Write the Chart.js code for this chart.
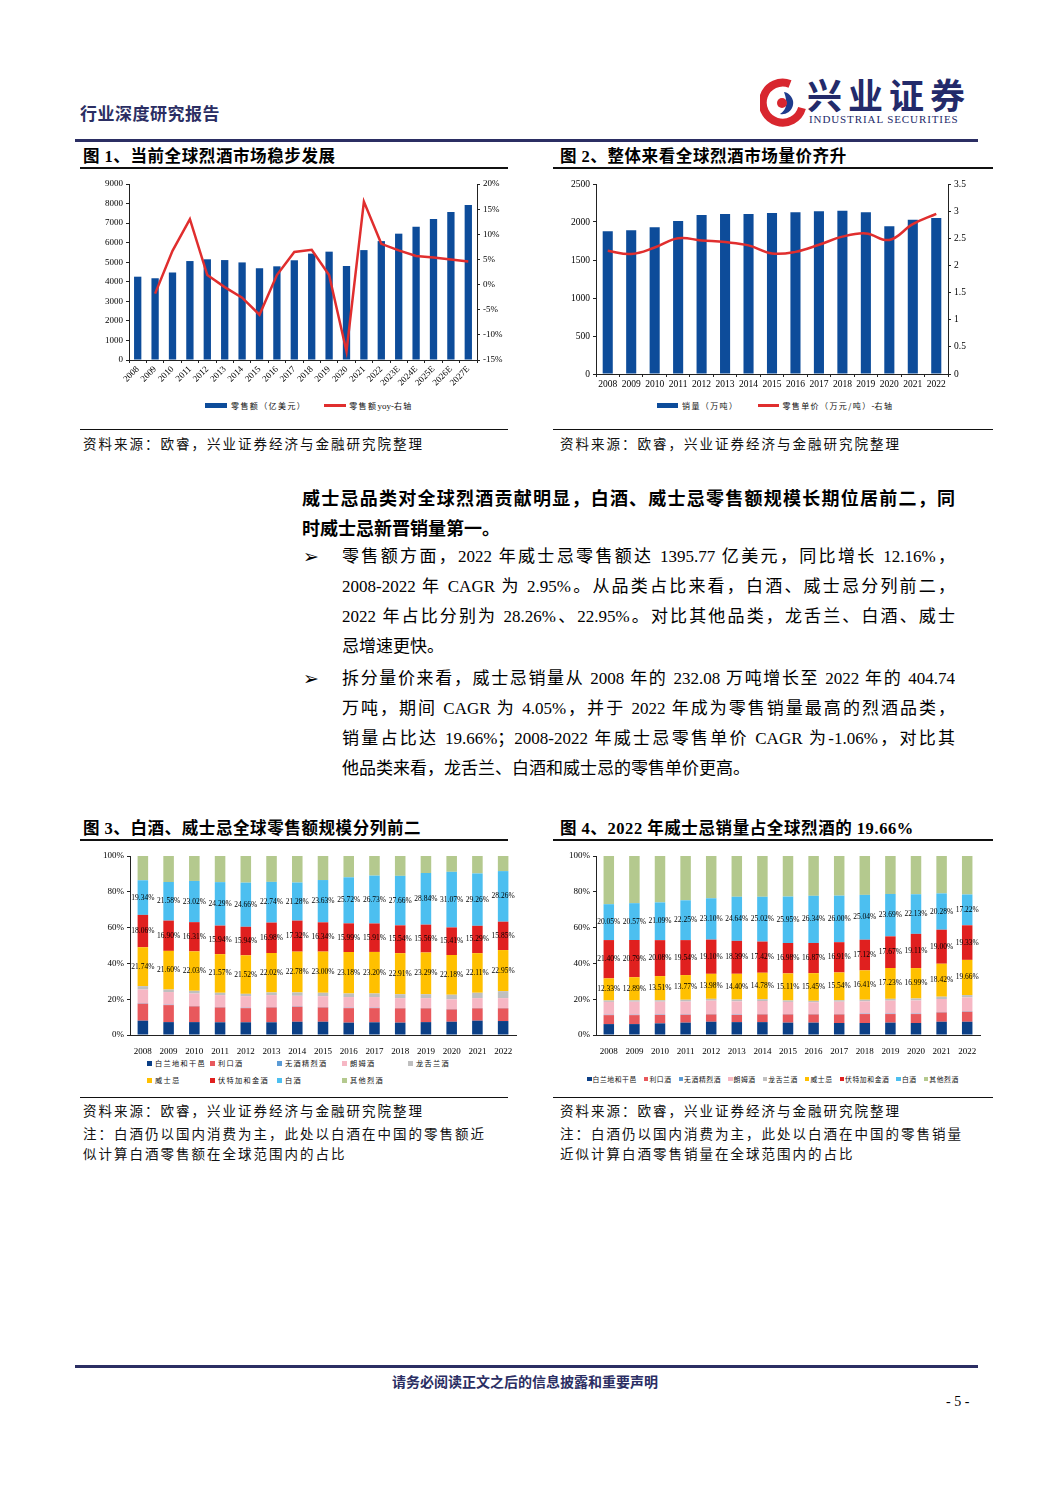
<!DOCTYPE html>
<html>
<head>
<meta charset="utf-8">
<script src="https://cdn.jsdelivr.net/npm/chart.js@4.4.0/dist/chart.umd.min.js"></script>
<style>
  body { margin: 0; background: #fff; }
  #page { position: relative; width: 1058px; height: 1496px; overflow: hidden;
    font-family: "Liberation Serif", "Noto Sans CJK SC", serif; color: #000; }
  .abs { position: absolute; }
  .rule { position: absolute; height: 1.5px; background: #111; }
  .navyrule { position: absolute; height: 3px; background: #2b2e63; }
  .figtitle { position: absolute; font-family: "Noto Sans CJK SC", sans-serif; font-weight: 700;
    font-size: 16.5px; letter-spacing: 0.6px; line-height: 20px; white-space: nowrap; }
  .figtitle .num { font-family: "Liberation Serif", serif; }
  .src { position: absolute; font-family: "Noto Sans CJK SC", sans-serif; font-size: 13.5px;
    letter-spacing: 2px; line-height: 20px; white-space: nowrap; color: #111; }
  .line { position: absolute; height: 30px; line-height: 30px; font-size: 17px; white-space: nowrap; }
  .line.full { text-align: justify; text-align-last: justify; white-space: normal; overflow: hidden; }
  .bold { font-family: "Noto Sans CJK SC", sans-serif; font-weight: 700; font-size: 18px; }
  .bullet { position: absolute; font-family: "DejaVu Sans", sans-serif; font-size: 19px; line-height: 30px; }
  canvas { position: absolute; }
  .lg { position: absolute; display: flex; align-items: center; white-space: nowrap;
    font-family: "Noto Sans CJK SC", sans-serif; color: #111; }
  .lg i { display: inline-block; }
</style>
</head>
<body>
<div id="page">
  <!-- header -->
  <div class="abs" style="left:80px;top:101px;font-family:'Noto Sans CJK SC';font-weight:700;font-size:17px;color:#2b2e63;letter-spacing:0.5px;line-height:24px;">行业深度研究报告</div>
  <svg class="abs" style="left:760px;top:78px" width="46" height="50" viewBox="0 0 46 50">
    <path d="M30 6 A20 20 0 1 0 42 30" stroke="#d8262e" stroke-width="8" fill="none"/>
    <path d="M24 14 A11 11 0 1 1 20 36 Q30 30 24 14 Z" fill="#1e3b8c"/>
    <circle cx="22" cy="25" r="5" fill="#d8262e"/>
  </svg>
  <div class="abs" style="left:807px;top:72px;font-family:'Noto Sans CJK SC';font-weight:700;font-size:35px;letter-spacing:6px;color:#232a6a;line-height:44px;">兴业证券</div>
  <div class="abs" style="left:809px;top:112px;font-family:'Liberation Serif';font-size:11px;letter-spacing:0.9px;color:#232a6a;line-height:14px;">INDUSTRIAL SECURITIES</div>
  <div class="navyrule" style="left:75px;top:139px;width:903px;"></div>

  <!-- top figures -->
  <div class="figtitle" style="left:83px;top:145px;">图 <span class="num">1</span>、当前全球烈酒市场稳步发展</div>
  <div class="figtitle" style="left:560px;top:145px;">图 <span class="num">2</span>、整体来看全球烈酒市场量价齐升</div>
  <div class="rule" style="left:80px;top:167px;width:428px;"></div>
  <div class="rule" style="left:553px;top:167px;width:440px;"></div>

  <canvas id="chart1" width="425" height="228" style="left:80px;top:172px;"></canvas>
  <canvas id="chart2" width="425" height="222" style="left:555px;top:172px;"></canvas>

  <div class="lg" style="left:205px;top:400px;font-size:8px;letter-spacing:1.4px;">
    <i style="width:22px;height:5px;background:#0d4c9a;margin-right:4px;"></i>零售额（亿美元）
    <i style="width:22px;height:3px;background:#e02e2e;margin:0 3px 0 18px;"></i>零售额<span style="font-family:'Liberation Serif';letter-spacing:0;font-size:9px">yoy-</span>右轴
  </div>
  <div class="lg" style="left:657px;top:400px;font-size:8px;letter-spacing:1.4px;">
    <i style="width:21px;height:5px;background:#0d4c9a;margin-right:4px;"></i>销量（万吨）
    <i style="width:21px;height:3px;background:#e02e2e;margin:0 3px 0 20px;"></i>零售单价（万元/吨）<span style="font-family:'Liberation Serif';letter-spacing:0;font-size:9px">-</span>右轴
  </div>

  <div class="rule" style="left:80px;top:429px;width:428px;height:1px;"></div>
  <div class="rule" style="left:553px;top:429px;width:440px;height:1px;"></div>
  <div class="src" style="left:83px;top:433px;">资料来源：欧睿，兴业证券经济与金融研究院整理</div>
  <div class="src" style="left:560px;top:433px;">资料来源：欧睿，兴业证券经济与金融研究院整理</div>

  <!-- body text -->
  <div class="line full bold" style="left:302px;top:482px;width:653px;">威士忌品类对全球烈酒贡献明显，白酒、威士忌零售额规模长期位居前二，同</div>
  <div class="line bold" style="left:302px;top:512px;">时威士忌新晋销量第一。</div>

  <div class="bullet" style="left:303px;top:541px;">➢</div>
  <div class="line full" style="left:342px;top:542px;width:613px;">零售额方面，2022 年威士忌零售额达 1395.77 亿美元，同比增长 12.16%，</div>
  <div class="line full" style="left:342px;top:572px;width:613px;">2008-2022 年 CAGR 为 2.95%。从品类占比来看，白酒、威士忌分列前二，</div>
  <div class="line full" style="left:342px;top:602px;width:613px;">2022 年占比分别为 28.26%、22.95%。对比其他品类，龙舌兰、白酒、威士</div>
  <div class="line" style="left:342px;top:632px;">忌增速更快。</div>

  <div class="bullet" style="left:303px;top:663px;">➢</div>
  <div class="line full" style="left:342px;top:664px;width:613px;">拆分量价来看，威士忌销量从 2008 年的 232.08 万吨增长至 2022 年的 404.74</div>
  <div class="line full" style="left:342px;top:694px;width:613px;">万吨，期间 CAGR 为 4.05%，并于 2022 年成为零售销量最高的烈酒品类，</div>
  <div class="line full" style="left:342px;top:724px;width:613px;">销量占比达 19.66%；2008-2022 年威士忌零售单价 CAGR 为-1.06%，对比其</div>
  <div class="line" style="left:342px;top:754px;">他品类来看，龙舌兰、白酒和威士忌的零售单价更高。</div>

  <!-- bottom figures -->
  <div class="figtitle" style="left:83px;top:817px;">图 <span class="num">3</span>、白酒、威士忌全球零售额规模分列前二</div>
  <div class="figtitle" style="left:560px;top:817px;">图 <span class="num">4</span>、<span class="num">2022</span> 年威士忌销量占全球烈酒的 <span class="num">19.66%</span></div>
  <div class="rule" style="left:80px;top:839px;width:428px;"></div>
  <div class="rule" style="left:553px;top:839px;width:440px;"></div>

  <canvas id="chart3" width="440" height="209" style="left:80px;top:846px;"></canvas>
  <canvas id="chart4" width="430" height="209" style="left:555px;top:846px;"></canvas>
  <div id="legend3"></div>
  <div id="legend4" class="lg" style="left:587px;top:1074px;font-size:6.8px;letter-spacing:0.6px;"></div>

  <div class="rule" style="left:80px;top:1097px;width:428px;height:1px;"></div>
  <div class="rule" style="left:553px;top:1097px;width:440px;height:1px;"></div>
  <div class="src" style="left:83px;top:1100px;">资料来源：欧睿，兴业证券经济与金融研究院整理</div>
  <div class="src" style="left:83px;top:1123px;">注：白酒仍以国内消费为主，此处以白酒在中国的零售额近</div>
  <div class="src" style="left:83px;top:1143px;">似计算白酒零售额在全球范围内的占比</div>
  <div class="src" style="left:560px;top:1100px;">资料来源：欧睿，兴业证券经济与金融研究院整理</div>
  <div class="src" style="left:560px;top:1123px;">注：白酒仍以国内消费为主，此处以白酒在中国的零售销量</div>
  <div class="src" style="left:560px;top:1143px;">近似计算白酒零售销量在全球范围内的占比</div>

  <!-- footer -->
  <div class="navyrule" style="left:75px;top:1365px;width:903px;"></div>
  <div class="abs" style="left:0;width:1050px;top:1371px;text-align:center;font-family:'Noto Sans CJK SC';font-weight:700;font-size:14px;color:#2b2e63;line-height:20px;">请务必阅读正文之后的信息披露和重要声明</div>
  <div class="abs" style="left:946px;top:1393px;font-size:14px;line-height:18px;">- 5 -</div>
</div>

<script>
// 图1 全球烈酒零售额
const years1 = ['2008', '2009', '2010', '2011', '2012', '2013', '2014', '2015', '2016', '2017',
  '2018', '2019', '2020', '2021', '2022', '2023E', '2024E', '2025E', '2026E', '2027E'];
const retailSales = [4260, 4180, 4470, 5060, 5150, 5110, 4990, 4690, 4790, 5100,
  5440, 5540, 4810, 5620, 6080, 6460, 6820, 7210, 7570, 7930];
const retailYoy = [null, -1.8, 6.7, 13.0, 1.9, -0.5, -2.6, -6.0, 1.9, 6.5,
  6.9, 1.9, -13.3, 16.5, 8.1, 6.8, 5.7, 5.4, 5.0, 4.6];

// 图2 销量与零售单价
const years2 = ['2008', '2009', '2010', '2011', '2012', '2013', '2014', '2015',
  '2016', '2017', '2018', '2019', '2020', '2021', '2022'];
const salesVolume = [1877, 1890, 1930, 2013, 2092, 2105, 2106, 2118, 2127, 2140, 2149, 2127, 1943, 2031, 2053];
const unitPrice = [2.27, 2.21, 2.33, 2.50, 2.46, 2.43, 2.37, 2.22, 2.25, 2.38, 2.53, 2.59, 2.47, 2.76, 2.95];

// 品类
const spiritNames = ['白兰地和干邑', '利口酒', '无酒精烈酒', '朗姆酒', '龙舌兰酒', '威士忌', '伏特加和金酒', '白酒', '其他烈酒'];

// 图3 零售额占比 (%)
const valBrandy  = [8.0, 7.2, 7.2, 7.1, 7.1, 7.1, 7.4, 7.4, 6.9, 7.1, 6.9, 7.2, 7.4, 8.0, 7.8];
const valLiqueur = [9.5, 9.5, 8.8, 8.3, 7.9, 8.3, 8.4, 8.0, 8.1, 7.9, 8.0, 7.7, 6.9, 6.9, 7.1];
const valNoAlc   = [0.2, 0.2, 0.2, 0.2, 0.2, 0.2, 0.2, 0.2, 0.2, 0.2, 0.2, 0.2, 0.2, 0.2, 0.2];
const valRum     = [7.7, 7.1, 7.0, 6.7, 6.5, 6.7, 5.9, 6.1, 6.0, 6.0, 5.5, 5.5, 5.4, 5.5, 5.5];
const valTequila = [1.9, 1.4, 1.5, 1.3, 1.3, 1.5, 1.9, 1.9, 2.0, 2.0, 2.2, 2.2, 2.6, 3.0, 3.9];
const valWhisky  = [21.74, 21.60, 22.03, 21.57, 21.52, 22.02, 22.78, 23.00, 23.18, 23.20, 22.91, 23.29, 22.18, 22.11, 22.95];
const valVodka   = [18.06, 16.90, 16.31, 15.94, 15.94, 16.98, 17.32, 16.34, 15.99, 15.91, 15.54, 15.56, 15.41, 15.29, 15.85];
const valBaijiu  = [19.34, 21.58, 23.02, 24.29, 24.66, 22.74, 21.28, 23.63, 25.72, 26.73, 27.66, 28.84, 31.07, 29.26, 28.26];
const valOther   = [13.56, 14.52, 13.94, 14.60, 14.88, 14.46, 14.82, 13.43, 11.91, 10.96, 11.09, 9.51, 8.84, 9.74, 8.44];

// 图4 销量占比 (%)
const volBrandy  = [6.1, 6.1, 6.5, 6.9, 7.4, 7.2, 7.2, 6.9, 6.9, 6.7, 6.7, 6.9, 6.7, 7.4, 7.4];
const volLiqueur = [5.0, 5.0, 4.7, 4.4, 4.1, 4.0, 4.3, 4.6, 4.6, 4.8, 5.0, 4.8, 5.0, 5.2, 5.6];
const volNoAlc   = [0.2, 0.2, 0.2, 0.2, 0.2, 0.2, 0.2, 0.2, 0.2, 0.2, 0.2, 0.2, 0.2, 0.2, 0.2];
const volRum     = [7.2, 7.3, 7.2, 7.2, 7.5, 7.4, 7.3, 6.8, 6.6, 6.9, 6.9, 7.3, 7.4, 7.3, 7.8];
const volTequila = [0.8, 0.8, 0.8, 1.0, 1.0, 1.0, 1.0, 0.8, 0.8, 0.8, 0.9, 1.0, 1.1, 1.3, 1.3];
const volWhisky  = [12.33, 12.89, 13.51, 13.77, 13.98, 14.40, 14.78, 15.11, 15.45, 15.54, 16.41, 17.23, 16.99, 18.42, 19.66];
const volVodka   = [21.40, 20.79, 20.08, 19.54, 19.10, 18.39, 17.42, 16.98, 16.87, 16.91, 17.12, 17.67, 19.11, 19.00, 19.33];
const volBaijiu  = [20.05, 20.57, 21.09, 22.25, 23.10, 24.64, 25.02, 25.95, 26.34, 26.00, 25.04, 23.69, 22.13, 20.28, 17.22];
const volOther   = [26.92, 26.35, 25.92, 24.74, 23.62, 22.77, 22.78, 22.66, 22.24, 22.15, 21.73, 21.21, 21.37, 20.90, 21.49];

const blue = '#0d4c9a';
const red = '#e02e2e';
const spiritColors = ['#0b3f86', '#e8585c', '#5b9bd5', '#f6b7c4', '#bfbfbf', '#ffc000', '#e0201f', '#4cbff0', '#b4c98e'];
const labelled = [false, false, false, false, false, true, true, true, false];

Chart.defaults.font.family = '"Liberation Serif", "Noto Sans CJK SC", serif';
Chart.defaults.color = '#000';
Chart.defaults.animation = false;

const tickGrid = { display: true, drawOnChartArea: false, drawTicks: true, tickLength: 3, color: '#222' };
const axisBorder = { display: true, color: '#222', width: 1 };
const plain = (v) => String(v);

const segmentLabels = {
	id: 'segmentLabels',
	afterDatasetsDraw(chart) {
		const ctx = chart.ctx;
		ctx.save();
		ctx.font = '7.5px "Liberation Serif"';
		ctx.fillStyle = '#000';
		ctx.textAlign = 'center';
		ctx.textBaseline = 'middle';
		chart.data.datasets.forEach((ds, i) => {
			if (!ds.showLabel) return;
			chart.getDatasetMeta(i).data.forEach((bar, j) => {
				ctx.fillText(ds.data[j].toFixed(2) + '%', bar.x, (bar.y + bar.base) / 2);
			});
		});
		ctx.restore();
	},
};

new Chart(document.getElementById('chart1'), {
	type: 'bar',
	data: {
		labels: years1,
		datasets: [
			{ type: 'line', data: retailYoy, yAxisID: 'y1', borderColor: red, borderWidth: 2.5,
				pointRadius: 0, tension: 0, order: 0 },
			{ type: 'bar', data: retailSales, yAxisID: 'y', backgroundColor: blue,
				barPercentage: 0.42, categoryPercentage: 1, order: 1 },
		],
	},
	options: {
		responsive: false,
		layout: { padding: { top: 12, left: 0, right: 0, bottom: 0 } },
		plugins: { legend: { display: false }, tooltip: { enabled: false } },
		scales: {
			x: {
				grid: tickGrid, border: axisBorder,
				ticks: { autoSkip: false, minRotation: 45, maxRotation: 45, font: { size: 9 }, padding: 1 },
				afterFit(s) { s.height = 40; },
			},
			y: {
				position: 'left', min: 0, max: 9000,
				grid: tickGrid, border: axisBorder,
				ticks: { stepSize: 1000, font: { size: 9 }, padding: 3, callback: plain },
				afterFit(s) { s.width = 49; },
			},
			y1: {
				position: 'right', min: -15, max: 20,
				grid: tickGrid, border: axisBorder,
				ticks: { stepSize: 5, font: { size: 9 }, padding: 3, callback: (v) => v + '%' },
				afterFit(s) { s.width = 28; },
			},
		},
	},
});

new Chart(document.getElementById('chart2'), {
	type: 'bar',
	data: {
		labels: years2,
		datasets: [
			{ type: 'line', data: unitPrice, yAxisID: 'y1', borderColor: red, borderWidth: 2.5,
				pointRadius: 0, tension: 0.4, order: 0 },
			{ type: 'bar', data: salesVolume, yAxisID: 'y', backgroundColor: blue,
				barPercentage: 0.43, categoryPercentage: 1, order: 1 },
		],
	},
	options: {
		responsive: false,
		layout: { padding: { top: 12, left: 0, right: 0, bottom: 0 } },
		plugins: { legend: { display: false }, tooltip: { enabled: false } },
		scales: {
			x: {
				grid: tickGrid, border: axisBorder,
				ticks: { autoSkip: false, maxRotation: 0, font: { size: 9.5 }, padding: 2 },
				afterFit(s) { s.height = 20; },
			},
			y: {
				position: 'left', min: 0, max: 2500,
				grid: tickGrid, border: axisBorder,
				ticks: { stepSize: 500, font: { size: 9.5 }, padding: 3, callback: plain },
				afterFit(s) { s.width = 41; },
			},
			y1: {
				position: 'right', min: 0, max: 3.5,
				grid: tickGrid, border: axisBorder,
				ticks: { stepSize: 0.5, font: { size: 9.5 }, padding: 3, callback: plain },
				afterFit(s) { s.width = 32; },
			},
		},
	},
});

function shareChart(id, series, yWidth, padRight) {
	return new Chart(document.getElementById(id), {
		type: 'bar',
		data: {
			labels: years2,
			datasets: series.map((data, i) => ({
				label: spiritNames[i], data, backgroundColor: spiritColors[i],
				barPercentage: 0.41, categoryPercentage: 1, showLabel: labelled[i],
			})),
		},
		plugins: [segmentLabels],
		options: {
			responsive: false,
			layout: { padding: { top: 10, left: 0, right: padRight, bottom: 0 } },
			plugins: { legend: { display: false }, tooltip: { enabled: false } },
			scales: {
				x: {
					stacked: true,
					grid: { display: false }, border: axisBorder,
					ticks: { autoSkip: false, maxRotation: 0, font: { size: 9 }, padding: 3 },
					afterFit(s) { s.height = 20; },
				},
				y: {
					stacked: true, min: 0, max: 100,
					grid: tickGrid, border: axisBorder,
					ticks: { stepSize: 20, font: { size: 9 }, padding: 3, callback: (v) => v + '%' },
					afterFit(s) { s.width = yWidth; },
				},
			},
		},
	});
}

shareChart('chart3', [valBrandy, valLiqueur, valNoAlc, valRum, valTequila, valWhisky, valVodka, valBaijiu, valOther], 50, 4);
shareChart('chart4', [volBrandy, volLiqueur, volNoAlc, volRum, volTequila, volWhisky, volVodka, volBaijiu, volOther], 41, 5);

// 图3 图例：两行网格
const legend3 = document.getElementById('legend3');
const cols3 = [147, 210, 277, 342, 408];
spiritNames.forEach((name, i) => {
	const row = i < 5 ? 0 : 1;
	const col = i < 5 ? i : i - 5;
	const el = document.createElement('div');
	el.className = 'lg';
	el.style.cssText = `left:${cols3[col]}px;top:${1058 + row * 17}px;font-size:7.2px;letter-spacing:1.3px;`;
	el.innerHTML = `<i style="width:5px;height:5px;background:${spiritColors[i]};margin-right:3px;"></i>${name}`;
	legend3.appendChild(el);
});

// 图4 图例：单行
const legend4 = document.getElementById('legend4');
spiritNames.forEach((name, i) => {
	const el = document.createElement('span');
	el.style.cssText = 'display:inline-flex;align-items:center;margin-right:7px;';
	el.innerHTML = `<i style="width:4.5px;height:4.5px;background:${spiritColors[i]};margin-right:1px;"></i>${name}`;
	legend4.appendChild(el);
});
</script>
</body>
</html>
